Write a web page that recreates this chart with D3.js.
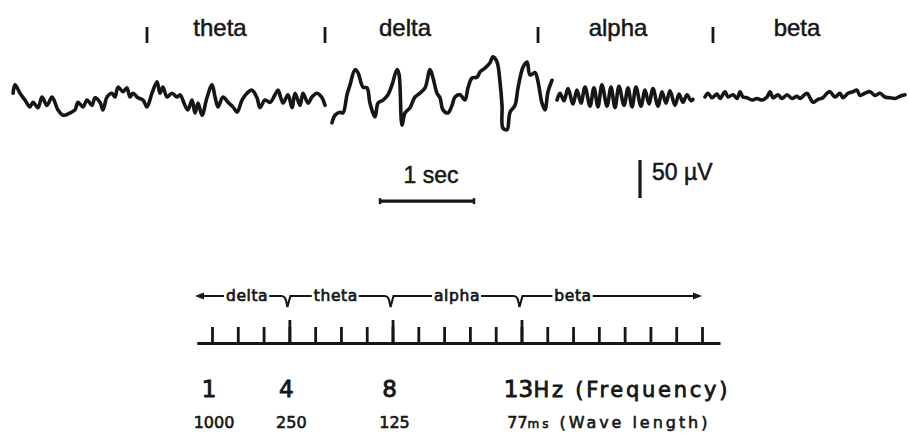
<!DOCTYPE html>
<html><head><meta charset="utf-8">
<script src="https://cdn.jsdelivr.net/npm/d3@7"></script>
<style>html,body{margin:0;padding:0;background:#fff}svg{display:block}</style>
</head><body>
<svg id="chart" width="909" height="435"></svg>
<script>
// ---------- EEG trace data: [time (ms), amplitude (µV)] ----------
const traceTheta = [[11,5],[32,16],[85,5],[138,-4],[191,-13],[223,-7],[277,-14],[319,0],[372,-11],[426,0],[489,-17],[543,-24],[617,-21],[670,-17],[702,-7],[755,-13],[798,-4],[851,-11],[883,-1],[936,-7],[968,-17],[1011,0],[1064,5],[1096,0],[1128,13],[1181,7],[1223,12],[1255,0],[1287,5],[1340,-1],[1394,-4],[1436,-13],[1489,5],[1543,20],[1574,5],[1606,13],[1649,0],[1702,5],[1755,0],[1787,3],[1840,-11],[1872,-17],[1915,-4],[1947,-21],[1979,-8],[2021,-24],[2074,-1],[2128,16],[2160,0],[2191,-13],[2245,0],[2298,-7],[2351,-13],[2394,-20],[2447,-4],[2500,5],[2553,9],[2606,-1],[2638,-14],[2691,-4],[2745,-7],[2798,3],[2830,9],[2883,-8],[2936,3],[2979,-14],[3011,5],[3064,-11],[3096,5],[3149,-8],[3191,0],[3245,5],[3298,-1],[3330,-11]];
const traceDelta = [[3404,-34],[3436,-24],[3489,-20],[3521,-21],[3564,3],[3596,16],[3649,36],[3681,32],[3734,13],[3777,12],[3808,-8],[3862,-26],[3894,-8],[3947,-4],[4000,3],[4043,16],[4096,36],[4117,30],[4149,-37],[4181,-21],[4234,-14],[4287,0],[4340,5],[4394,12],[4447,36],[4479,25],[4521,5],[4553,-1],[4585,-17],[4638,-21],[4681,-11],[4713,0],[4766,3],[4819,-4],[4851,12],[4894,25],[4947,26],[4979,33],[5032,38],[5085,45],[5117,53],[5160,46],[5191,20],[5213,-11],[5223,-41],[5266,-43],[5298,-20],[5351,-11],[5383,12],[5436,39],[5479,46],[5511,29],[5564,32],[5596,20],[5638,-8],[5670,-17],[5702,7],[5745,22]];
const traceAlpha = [[5798,-4],[5830,5],[5872,-5],[5915,11],[5968,-9],[6010,9],[6053,-8],[6096,13],[6149,-12],[6191,12],[6234,-13],[6276,16],[6330,-12],[6372,13],[6415,-14],[6457,14],[6511,-11],[6553,12],[6596,-13],[6638,13],[6691,-12],[6734,9],[6776,-9],[6819,11],[6872,-12],[6915,7],[6957,-8],[7000,8],[7053,-11],[7096,4],[7138,-7],[7181,3],[7223,-5],[7245,-3]];
const traceBeta = [[7372,0],[7404,5],[7447,-1],[7500,4],[7532,-2],[7585,7],[7617,0],[7670,3],[7713,-2],[7745,7],[7776,0],[7819,-1],[7872,-4],[7925,-2],[7979,-4],[8032,0],[8064,7],[8096,-1],[8149,3],[8191,-2],[8245,3],[8298,-2],[8351,1],[8383,-2],[8457,5],[8489,-1],[8521,-7],[8574,-3],[8627,-1],[8670,5],[8702,7],[8755,0],[8808,5],[8840,-1],[8894,5],[8947,7],[8989,9],[9021,2],[9074,5],[9128,7],[9181,2],[9234,5],[9287,0],[9340,-1],[9393,-2],[9447,1],[9500,3]];

// section markers and labels above the trace
const sectionNames = ["theta", "delta", "alpha", "beta"];
const sectionLabelTimes = [2213, 4181, 6447, 8351];   // ms
const sectionMarkTimes = [1436, 3330, 5596, 7457];    // ms

// calibration bars
const calTimeSpan = [3915, 4915];   // ms (1 sec)
const calTimeLevel = -137;          // µV level where the time bar sits
const calVoltTime = 6681;           // ms
const calVoltSpan = [-133, -83];    // µV (50 µV)

// frequency scale (bottom)
const freqTicks = [1,2,3,4,5,6,7,8,9,10,11,12,13,14,15,16,17,18,19,20];
const freqMajor = [4, 8, 13];
const freqLabels = [1, 4, 8, 13];
const freqExtent = [0.42, 20.69];
const bandNames = ["delta", "theta", "alpha", "beta"];
const bandLabelFreqs = [2.36, 5.8, 10.5, 15.0];
const bandEdges = [4, 8, 13];
const bandArrowExtent = [0.34, 20.0];

// ---------- scales ----------
const svg = d3.select("#chart");
const x = d3.scaleLinear().domain([0, 9500]).range([12, 905]);
const y = d3.scaleLinear().domain([0, 50]).range([97, 59]);
const f = d3.scaleLinear().domain([1, 20]).range([212, 702]);

const ink = "#161616";
const arial = "'Liberation Sans', Arial, sans-serif";
const geo = "'DejaVu Sans', Verdana, sans-serif";

// ---------- trace ----------
const traceLine = d3.line().x(d => x(d[0])).y(d => y(d[1])).curve(d3.curveCatmullRom.alpha(0.5));
[traceTheta, traceDelta, traceAlpha, traceBeta].forEach(seg => {
  svg.append("path")
    .attr("d", traceLine(seg))
    .attr("fill", "none").attr("stroke", ink)
    .attr("stroke-width", 3.6).attr("stroke-linejoin", "round").attr("stroke-linecap", "round");
});

// section markers
svg.selectAll("line.mark").data(sectionMarkTimes).enter().append("line")
  .attr("x1", d => x(d)).attr("x2", d => x(d))
  .attr("y1", 27).attr("y2", 43)
  .attr("stroke", ink).attr("stroke-width", 2.8);

svg.selectAll("text.sec").data(sectionNames).enter().append("text")
  .attr("x", (d, i) => x(sectionLabelTimes[i])).attr("y", 36)
  .attr("text-anchor", "middle")
  .attr("font-family", arial)
  .attr("font-size", 24).attr("fill", ink).attr("stroke", ink).attr("stroke-width", 0.5)
  .text(d => d);

// time calibration bar
const cy = y(calTimeLevel);
svg.append("line").attr("x1", x(calTimeSpan[0])).attr("x2", x(calTimeSpan[1]))
  .attr("y1", cy).attr("y2", cy).attr("stroke", ink).attr("stroke-width", 3.2);
calTimeSpan.forEach(t => svg.append("line").attr("x1", x(t)).attr("x2", x(t))
  .attr("y1", cy - 3).attr("y2", cy + 3).attr("stroke", ink).attr("stroke-width", 2.5));
svg.append("text").attr("x", (x(calTimeSpan[0]) + x(calTimeSpan[1])) / 2 + 4).attr("y", 183)
  .attr("text-anchor", "middle")
  .attr("font-family", arial)
  .attr("font-size", 23).attr("fill", ink).attr("stroke", ink).attr("stroke-width", 0.5).text("1 sec");

// voltage calibration bar
svg.append("line").attr("x1", x(calVoltTime)).attr("x2", x(calVoltTime))
  .attr("y1", y(calVoltSpan[0])).attr("y2", y(calVoltSpan[1]))
  .attr("stroke", ink).attr("stroke-width", 3.2);
svg.append("text").attr("x", x(calVoltTime) + 12).attr("y", 180)
  .attr("font-family", arial)
  .attr("font-size", 23).attr("fill", ink).attr("stroke", ink).attr("stroke-width", 0.5).text("50 µV");

// ---------- frequency axis ----------
const fAxisScale = f.copy().domain(freqExtent).range(freqExtent.map(f));
const axisY = 343;
const gMinor = svg.append("g").attr("transform", `translate(0,${axisY})`)
  .call(d3.axisTop(fAxisScale).tickValues(freqTicks).tickSize(16).tickSizeOuter(0).tickFormat(""));
const gMajor = svg.append("g").attr("transform", `translate(0,${axisY})`)
  .call(d3.axisTop(fAxisScale).tickValues(freqMajor).tickSize(23).tickSizeOuter(0).tickFormat(""));
[gMinor, gMajor].forEach(g => {
  g.selectAll("path.domain").attr("stroke", ink).attr("stroke-width", 2.8);
  g.selectAll(".tick line").attr("stroke", ink).attr("stroke-width", 2.8);
});

// frequency labels
svg.selectAll("text.fl").data(freqLabels).enter().append("text")
  .attr("x", d => f(d) - 3).attr("y", 397).attr("text-anchor", "middle")
  .attr("font-family", geo).attr("font-size", 23).attr("fill", ink)
  .attr("stroke", ink).attr("stroke-width", 0.9)
  .text(d => d);
svg.append("text").attr("x", f(13) + 12).attr("y", 397)
  .attr("font-family", geo).attr("font-size", 21).attr("fill", ink)
  .attr("stroke", ink).attr("stroke-width", 0.8)
  .attr("textLength", 194).attr("lengthAdjust", "spacing")
  .text("Hz (Frequency)");

// wavelength labels (1000 / f ms)
svg.selectAll("text.wl").data(freqLabels).enter().append("text")
  .attr("x", d => f(d) + (d === 13 ? -4 : 2)).attr("y", 428).attr("text-anchor", "middle")
  .attr("font-family", geo).attr("font-size", 16).attr("fill", ink)
  .attr("stroke", ink).attr("stroke-width", 0.6)
  .text(d => Math.round(1000 / d));
const wl = svg.append("text").attr("x", f(13) + 6).attr("y", 428)
  .attr("font-family", geo).attr("font-size", 16).attr("fill", ink)
  .attr("stroke", ink).attr("stroke-width", 0.6)
  .attr("textLength", 180).attr("lengthAdjust", "spacing");
wl.append("tspan").attr("font-size", 12).text("ms");
wl.append("tspan").text(" (Wave length)");

// ---------- band row with arrows and notches ----------
const by = 296;
const bandTexts = svg.selectAll("text.band").data(bandNames).enter().append("text")
  .attr("x", (d, i) => f(bandLabelFreqs[i])).attr("y", by + 5).attr("text-anchor", "middle")
  .attr("font-family", geo).attr("font-size", 15.5)
  .attr("stroke", ink).attr("stroke-width", 0.7)
  .attr("letter-spacing", 0.6).attr("fill", ink)
  .text(d => d);
const boxes = bandTexts.nodes().map(n => n.getBBox());
const xl = f(bandArrowExtent[0]), xr = f(bandArrowExtent[1]);
let p = `M${xl + 6},${by}H${boxes[0].x - 2}`;
bandEdges.forEach((e, i) => {
  const T = f(e);
  p += `M${boxes[i].x + boxes[i].width + 1},${by}H${T - 8}Q${T - 4},${by} ${T - 3},${by + 6}L${T - 2},${by + 11}L${T + 1},${by}H${boxes[i + 1].x - 2}`;
});
p += `M${boxes[3].x + boxes[3].width + 1},${by}H${xr - 6}`;
svg.append("path").attr("d", p).attr("fill", "none").attr("stroke", ink).attr("stroke-width", 2.1);
svg.append("path").attr("d", `M${xl},${by}L${xl + 9},${by - 3.5}L${xl + 9},${by + 3.5}Z`).attr("fill", ink);
svg.append("path").attr("d", `M${xr},${by}L${xr - 9},${by - 3.5}L${xr - 9},${by + 3.5}Z`).attr("fill", ink);
</script>
</body></html>
